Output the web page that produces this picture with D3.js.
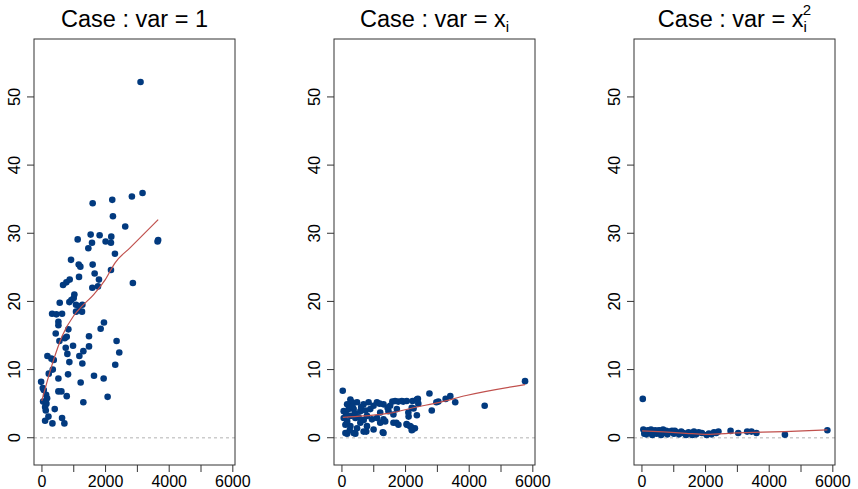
<!DOCTYPE html>
<html>
<head>
<meta charset="utf-8">
<script src="https://cdn.jsdelivr.net/npm/d3@7"></script>
<style>
  body { margin: 0; background: #fff; }
  text { font-family: "Liberation Sans", Arial, sans-serif; fill: #000; }
  .box { fill: none; stroke: #333; stroke-width: 1; }
  .tick line { stroke: #333; }
  .zero { stroke: #ccc; stroke-width: 1.6; stroke-dasharray: 3,3; }
  .fit { fill: none; stroke: #c0504d; stroke-width: 1.2; }
  .dot { fill: #023a7f; }
</style>
</head>
<body>
<svg id="chart" width="858" height="489"></svg>
<script>
// x ticks shared by all panels, labels only every other tick
var xTicks = [0, 1000, 2000, 3000, 4000, 5000, 6000]
var xTickLabels = ['0', '', '2000', '', '4000', '', '6000']
var yTicks = [0, 10, 20, 30, 40, 50]

// Case : var = 1
var case1Points = [
  [3115, 52.2], [3178, 35.9], [2843, 35.4], [2226, 34.9], [1610, 34.4], [2247, 32.5],
  [2634, 31.0], [1547, 29.8], [1829, 29.7], [1139, 29.1], [2195, 29.5], [3669, 29.0],
  [3650, 28.8], [1589, 28.6], [2017, 28.8], [2185, 28.6], [1474, 27.8], [2310, 27.0],
  [930, 26.1], [1171, 25.4], [1223, 25.1], [1610, 25.4], [2185, 24.6], [1672, 24.1],
  [1181, 23.6], [888, 23.2], [784, 22.8], [1808, 23.2], [679, 22.4], [2874, 22.7],
  [1777, 22.2], [1599, 22.0], [1035, 21.0], [1014, 20.5], [575, 19.8], [878, 19.9],
  [941, 20.2], [1087, 19.5], [1286, 19.5], [1181, 19.3], [335, 18.2], [470, 18.1],
  [648, 18.2], [1275, 18.5], [1087, 18.5], [533, 17.0], [533, 16.5], [1965, 16.9],
  [1861, 16.0], [846, 15.9], [449, 15.3], [1495, 14.9], [795, 14.8], [732, 14.6],
  [565, 14.2], [2362, 14.2], [1495, 13.4], [993, 13.5], [763, 13.2], [1317, 12.7],
  [2446, 12.5], [815, 12.3], [1192, 12.0], [188, 12.0], [314, 11.6], [387, 11.4],
  [878, 11.1], [1286, 10.9], [2320, 10.7], [356, 10.0], [230, 9.4], [836, 9.3],
  [1652, 9.1], [1955, 8.7], [533, 8.7], [-10, 8.2], [1233, 8.1], [42, 7.3],
  [73, 7.0], [627, 6.8], [533, 6.8], [146, 6.3], [795, 6.1], [2080, 6.0],
  [178, 5.8], [52, 5.3], [1317, 5.2], [157, 5.0], [115, 4.5], [418, 4.2],
  [136, 4.0], [220, 3.1], [648, 2.9], [115, 2.5], [345, 2.1], [721, 2.1]
]
var case1Fit = [
  [10, 5.4], [387, 11.5], [648, 14.9], [1014, 17.9], [1275, 19.3], [1641, 21.0],
  [2007, 23.2], [2320, 25.7], [2791, 27.9], [3669, 32.0]
]

// Case : var = x_i
var case2Points = [
  [41, 6.9], [5771, 8.3], [4502, 4.7], [2766, 6.5], [2839, 4.0], [2984, 5.2],
  [3046, 5.3], [3275, 5.7], [3421, 6.1], [3577, 5.2], [2402, 5.7], [2236, 5.4],
  [2267, 4.3], [2371, 3.3], [2111, 3.1], [2048, 2.0], [2184, 1.6], [2309, 1.4],
  [2236, 1.2], [1726, 2.2], [1601, 5.3], [1788, 5.3], [1944, 5.3], [1300, 0.8],
  [177, 0.6], [437, 0.6], [780, 0.9], [281, 5.6], [334, 5.2], [178, 4.9],
  [490, 5.2], [697, 4.9], [853, 5.2], [1010, 4.7], [1115, 5.2], [1322, 4.9],
  [1531, 4.7], [1688, 5.4], [1897, 5.4], [2053, 5.4], [2366, 5.6], [2416, 5.0],
  [2210, 4.4], [72, 3.9], [228, 4.2], [384, 4.2], [594, 3.9], [906, 4.2],
  [1219, 3.7], [1478, 3.9], [1741, 4.2], [72, 2.9], [281, 3.2], [438, 2.9],
  [803, 3.2], [959, 2.7], [1116, 2.9], [1322, 2.7], [1634, 3.4], [2103, 3.7],
  [125, 1.9], [281, 1.7], [594, 2.2], [803, 1.7], [1219, 2.2], [1375, 2.4],
  [1634, 2.2], [1791, 1.9], [2053, 1.9], [2156, 1.7], [2210, 1.1], [125, 0.7],
  [384, 0.7], [697, 0.9], [1322, 0.7], [1010, 1.2], [490, 1.4], [150, 3.4],
  [350, 4.6], [620, 4.5], [180, 2.4], [420, 3.6], [700, 2.6], [260, 1.1],
  [540, 3.0], [1450, 4.4], [1200, 5.0], [760, 4.0]
]
var case2Fit = [
  [42, 3.0], [697, 3.2], [1529, 3.6], [2256, 4.4], [3088, 5.2], [3920, 6.2], [5771, 7.8]
]

// Case : var = x_i^2
var case3Points = [
  [42, 5.7], [5844, 1.1], [4510, 0.45], [2802, 1.0], [3042, 0.7], [3323, 0.9],
  [3458, 0.9], [3615, 0.7], [60, 1.2], [120, 0.9], [150, 0.5], [200, 1.1],
  [250, 0.7], [300, 1.2], [340, 0.4], [380, 0.9], [430, 1.1], [480, 0.6],
  [520, 1.0], [580, 0.8], [620, 0.4], [680, 1.2], [720, 0.7], [780, 1.0],
  [820, 0.5], [900, 0.9], [960, 1.0], [1020, 0.6], [1100, 0.8], [1180, 0.5],
  [1250, 0.9], [1320, 0.7], [1400, 0.4], [1480, 0.8], [1560, 0.6], [1650, 0.9],
  [1720, 0.5], [1800, 0.8], [2050, 0.4], [2120, 0.6], [2200, 0.5], [2280, 0.8],
  [2350, 0.7], [2420, 0.9], [90, 0.6], [330, 0.8], [560, 1.1], [1050, 1.0],
  [1600, 0.4], [1900, 0.7]
]
var case3Fit = [
  [20, 1.0], [700, 0.85], [1400, 0.65], [2020, 0.5], [3000, 0.7], [4500, 0.9], [5844, 1.15]
]

var panels = [
  { left: 34, points: case1Points, fit: case1Fit, title: 'one' },
  { left: 334, points: case2Points, fit: case2Fit, title: 'xi' },
  { left: 634, points: case3Points, fit: case3Fit, title: 'xi2' }
]

var svg = d3.select('#chart')
var boxW = 201, boxH = 426, boxTop = 39

var x = d3.scaleLinear().domain([-234, 6084]).range([0, boxW])
var y = d3.scaleLinear().domain([-4, 58.5]).range([boxH, 0])

panels.forEach(function(p) {
  var g = svg.append('g').attr('transform', 'translate(' + p.left + ' ' + boxTop + ')')

  // dotted zero line
  g.append('line').attr('class', 'zero')
    .attr('x1', 0).attr('x2', boxW)
    .attr('y1', y(0)).attr('y2', y(0))

  // axes
  var xAxis = d3.axisBottom(x).tickValues(xTicks).tickSize(7).tickPadding(2)
    .tickFormat(function(d, i) { return xTickLabels[i] })
  var gx = g.append('g').attr('transform', 'translate(0 ' + boxH + ')').call(xAxis)
  gx.select('.domain').remove()
  gx.selectAll('text').attr('font-size', 16).attr('dy', '0.8em')

  var yAxis = d3.axisLeft(y).tickValues(yTicks).tickSize(7).tickFormat(d3.format('d'))
  var gy = g.append('g').call(yAxis)
  gy.select('.domain').remove()
  gy.selectAll('text')
    .attr('font-size', 16.5)
    .attr('x', null).attr('dy', null)
    .attr('text-anchor', 'middle')
    .attr('transform', function(d) { return 'translate(-14 ' + y(d) + ') rotate(-90)' })
  gy.selectAll('.tick').attr('transform', null)
  gy.selectAll('.tick line').attr('transform', function(d) { return 'translate(0 ' + y(d) + ')' })

  // box
  g.append('rect').attr('class', 'box')
    .attr('x', 0).attr('y', 0).attr('width', boxW).attr('height', boxH)

  // points
  g.selectAll('circle.dot').data(p.points).enter().append('circle')
    .attr('class', 'dot')
    .attr('cx', function(d) { return x(d[0]) })
    .attr('cy', function(d) { return y(d[1]) })
    .attr('r', 3.3)

  // fitted line
  var line = d3.line()
    .x(function(d) { return x(d[0]) })
    .y(function(d) { return y(d[1]) })
    .curve(d3.curveMonotoneX)
  g.append('path').attr('class', 'fit').attr('d', line(p.fit))

  // title
  var t = svg.append('text')
    .attr('x', p.left + boxW / 2)
    .attr('y', 27)
    .attr('text-anchor', 'middle')
    .attr('font-size', 23.5)
  if (p.title === 'one') {
    t.text('Case : var = 1')
  } else {
    t.append('tspan').text('Case : var = x')
    t.append('tspan').attr('font-size', 15).attr('dy', 5).text('i')
    if (p.title === 'xi2') {
      t.append('tspan').attr('font-size', 15).attr('dx', -4).attr('dy', -17).text('2')
    }
  }
})
</script>
</body>
</html>
